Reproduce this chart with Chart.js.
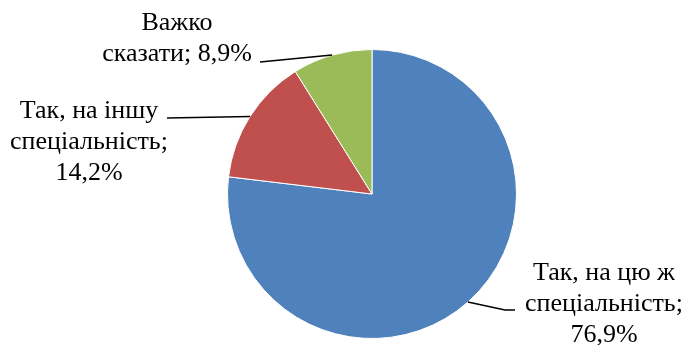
<!DOCTYPE html>
<html>
<head>
<meta charset="utf-8">
<script src="https://cdn.jsdelivr.net/npm/chart.js@4/dist/chart.umd.min.js"></script>
<style>
  html, body { margin: 0; padding: 0; background: #fff; }
  #wrap { width: 686px; height: 345px; position: relative; }
</style>
</head>
<body>
<div id="wrap"><canvas id="c" width="686" height="345"></canvas></div>
<script>
// Answer categories and their shares (%)
const categories = [
  ['Так, на цю ж', 'спеціальність;'],
  ['Так, на іншу', 'спеціальність;'],
  ['Важко', 'сказати;']
];
const shares = [76.9, 14.2, 8.9];
const colors = ['#4F81BD', '#C0504D', '#9BBB59'];

// Label placement: text centre x, first baseline y, and the leader-line end points
const labelLayout = [
  { x: 604, y: 280, lineHeight: 31, path: [[505, 310], [515, 310]] },
  { x: 89,  y: 118, lineHeight: 31, path: [[167, 118]] },
  { x: 177, y: 30,  lineHeight: 31, path: [[260, 62]] }
];

const labelFont = 'normal 400 26px "Liberation Serif", Times, serif';

function fmt(v) { return v.toFixed(1).replace('.', ',') + '%'; }

// Category lines plus the percent value; the short label keeps the value on its last line
function labelLines(i) {
  const cat = categories[i];
  if (i === 2) return [cat[0], cat[1] + ' ' + fmt(shares[i])];
  return [...cat, fmt(shares[i])];
}

// Draws a leader line from each slice's outer edge (at its mid angle) and the label text
const calloutLabels = {
  id: 'calloutLabels',
  afterDatasetsDraw(chart) {
    const ctx = chart.ctx;
    const meta = chart.getDatasetMeta(0);
    ctx.save();
    ctx.fillStyle = '#000';
    ctx.strokeStyle = '#000';
    ctx.lineWidth = 1.5;
    meta.data.forEach((arc, i) => {
      const p = arc.getProps(['x', 'y', 'startAngle', 'endAngle', 'outerRadius'], true);
      const mid = (p.startAngle + p.endAngle) / 2;
      const ax = p.x + Math.cos(mid) * p.outerRadius;
      const ay = p.y + Math.sin(mid) * p.outerRadius;
      const lay = labelLayout[i];
      ctx.beginPath();
      ctx.moveTo(ax, ay);
      lay.path.forEach(pt => ctx.lineTo(pt[0], pt[1]));
      ctx.stroke();
      ctx.font = labelFont;
      ctx.textAlign = 'center';
      ctx.textBaseline = 'alphabetic';
      labelLines(i).forEach((t, k) => {
        ctx.fillText(t, lay.x, lay.y + k * lay.lineHeight);
      });
    });
    ctx.restore();
  }
};

new Chart(document.getElementById('c'), {
  type: 'pie',
  data: {
    labels: categories.map(c => c.join(' ')),
    datasets: [{
      data: shares,
      backgroundColor: colors,
      borderColor: '#ffffff',
      borderWidth: 1
    }]
  },
  options: {
    responsive: false,
    animation: false,
    layout: { padding: { top: 49, bottom: 6, left: 100, right: 42 } },
    plugins: {
      legend: { display: false },
      tooltip: { enabled: false }
    }
  },
  plugins: [calloutLabels]
});
</script>
</body>
</html>
